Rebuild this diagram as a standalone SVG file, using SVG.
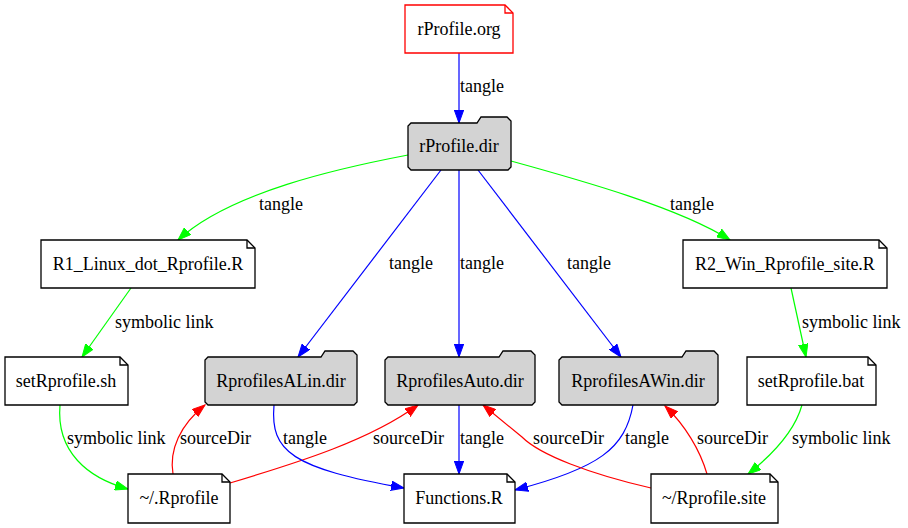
<svg xmlns="http://www.w3.org/2000/svg" width="908" height="528" viewBox="0 0 908 528">
<style>
.note{fill:#fff;stroke:#000;stroke-width:1.3}
.fold{fill:none;stroke:#000;stroke-width:1.3}
.dir{fill:#d3d3d3;stroke:#000;stroke-width:1.3}
.e path{fill:none;stroke-width:1.2}
.b{stroke:#0000ff}
.g{stroke:#00ff00}
.r{stroke:#ff0000}
</style>
<defs>
<marker id="ab" markerUnits="userSpaceOnUse" markerWidth="14" markerHeight="10" refX="13" refY="5" orient="auto"><path d="M0,0.3 L13,5 L0,9.7 Z" fill="#0000ff" stroke="#0000ff"/></marker>
<marker id="ag" markerUnits="userSpaceOnUse" markerWidth="14" markerHeight="10" refX="13" refY="5" orient="auto"><path d="M0,0.3 L13,5 L0,9.7 Z" fill="#00ff00" stroke="#00ff00"/></marker>
<marker id="ar" markerUnits="userSpaceOnUse" markerWidth="14" markerHeight="10" refX="13" refY="5" orient="auto"><path d="M0,0.3 L13,5 L0,9.7 Z" fill="#ff0000" stroke="#ff0000"/></marker>
</defs>
<rect width="908" height="528" fill="#fff"/>
<g id="edges" class="e">
<path class="b" d="M459,53 L459,123" marker-end="url(#ab)"/>
<path class="g" d="M408,155 C340,168 230,192 178,240" marker-end="url(#ag)"/>
<path class="g" d="M511,161 C580,180 680,208 730,240" marker-end="url(#ag)"/>
<path class="b" d="M441,170 L298,357" marker-end="url(#ab)"/>
<path class="b" d="M459,170 L459,357" marker-end="url(#ab)"/>
<path class="b" d="M478,170 L621,357" marker-end="url(#ab)"/>
<path class="g" d="M131,288 L82,357" marker-end="url(#ag)"/>
<path class="g" d="M791,288 L806,357" marker-end="url(#ag)"/>
<path class="g" d="M60,405 C56,452 88,478 128,489" marker-end="url(#ag)"/>
<path class="r" d="M173,474 C169,450 180,425 205,405" marker-end="url(#ar)"/>
<path class="r" d="M230,483 C300,462 370,440 418,405" marker-end="url(#ar)"/>
<path class="b" d="M274,405 C270,452 292,468 404,488" marker-end="url(#ab)"/>
<path class="b" d="M459,405 L459,474" marker-end="url(#ab)"/>
<path class="b" d="M633,405 C625,448 600,468 515,490" marker-end="url(#ab)"/>
<path class="r" d="M651,488 C590,474 540,455 522,437 L483,405" marker-end="url(#ar)"/>
<path class="r" d="M707,474 C700,450 685,425 665,406" marker-end="url(#ar)"/>
<path class="g" d="M802,405 C795,430 772,455 748,474" marker-end="url(#ag)"/>
</g>
<g id="edge-labels" font-family="Liberation Serif, serif" font-size="18">
<text x="460" y="92">tangle</text>
<text x="259" y="210">tangle</text>
<text x="670" y="210">tangle</text>
<text x="389" y="269">tangle</text>
<text x="460" y="269">tangle</text>
<text x="567" y="269">tangle</text>
<text x="115" y="328">symbolic link</text>
<text x="802" y="328">symbolic link</text>
<text x="67" y="444">symbolic link</text>
<text x="180" y="444">sourceDir</text>
<text x="283" y="444">tangle</text>
<text x="373" y="444">sourceDir</text>
<text x="460" y="444">tangle</text>
<text x="533" y="444">sourceDir</text>
<text x="625" y="444">tangle</text>
<text x="697" y="444">sourceDir</text>
<text x="792" y="444">symbolic link</text>
</g>
<g id="nodes" font-family="Liberation Serif, serif" font-size="18" text-anchor="middle">
<g id="rProfile_org">
<path class="note" style="stroke:#ff0000" d="M405,5 L505,5 L513,13 L513,53 L405,53 Z"/>
<path class="fold" style="stroke:#ff0000" d="M505,5 L505,13 L513,13"/>
<text x="459" y="35">rProfile.org</text>
</g>
<g id="rProfile_dir">
<path class="dir" d="M411,123 L477,123 L481,117 L507,117 L511,121 L511,167 L508,170 L411,170 L408,167 L408,126 Z"/>
<text x="459" y="152">rProfile.dir</text>
</g>
<g id="R1_Linux">
<path class="note" d="M41,240 L247,240 L255,248 L255,288 L41,288 Z"/>
<path class="fold" d="M247,240 L247,248 L255,248"/>
<text x="148" y="270">R1_Linux_dot_Rprofile.R</text>
</g>
<g id="R2_Win">
<path class="note" d="M683,240 L879,240 L887,248 L887,288 L683,288 Z"/>
<path class="fold" d="M879,240 L879,248 L887,248"/>
<text x="785" y="270">R2_Win_Rprofile_site.R</text>
</g>
<g id="setRprofile_sh">
<path class="note" d="M5,357 L120,357 L128,365 L128,405 L5,405 Z"/>
<path class="fold" d="M120,357 L120,365 L128,365"/>
<text x="66" y="387">setRprofile.sh</text>
</g>
<g id="setRprofile_bat">
<path class="note" d="M747,357 L868,357 L876,365 L876,405 L747,405 Z"/>
<path class="fold" d="M868,357 L868,365 L876,365"/>
<text x="811" y="387">setRprofile.bat</text>
</g>
<g id="RprofilesALin">
<path class="dir" d="M208,357 L321,357 L325,351 L353,351 L357,355 L357,402 L354,405 L208,405 L205,402 L205,360 Z"/>
<text x="281" y="387">RprofilesALin.dir</text>
</g>
<g id="RprofilesAuto">
<path class="dir" d="M388,357 L499,357 L503,351 L531,351 L535,355 L535,402 L532,405 L388,405 L385,402 L385,360 Z"/>
<text x="460" y="387">RprofilesAuto.dir</text>
</g>
<g id="RprofilesAWin">
<path class="dir" d="M562,357 L682,357 L686,351 L714,351 L718,355 L718,402 L715,405 L562,405 L559,402 L559,360 Z"/>
<text x="638" y="387">RprofilesAWin.dir</text>
</g>
<g id="Rprofile_home">
<path class="note" d="M128,474 L222,474 L230,482 L230,523 L128,523 Z"/>
<path class="fold" d="M222,474 L222,482 L230,482"/>
<text x="179" y="504">~/.Rprofile</text>
</g>
<g id="Functions_R">
<path class="note" d="M404,474 L507,474 L515,482 L515,523 L404,523 Z"/>
<path class="fold" d="M507,474 L507,482 L515,482"/>
<text x="459" y="504">Functions.R</text>
</g>
<g id="Rprofile_site">
<path class="note" d="M651,474 L770,474 L778,482 L778,523 L651,523 Z"/>
<path class="fold" d="M770,474 L770,482 L778,482"/>
<text x="714" y="504">~/Rprofile.site</text>
</g>
</g>
</svg>
